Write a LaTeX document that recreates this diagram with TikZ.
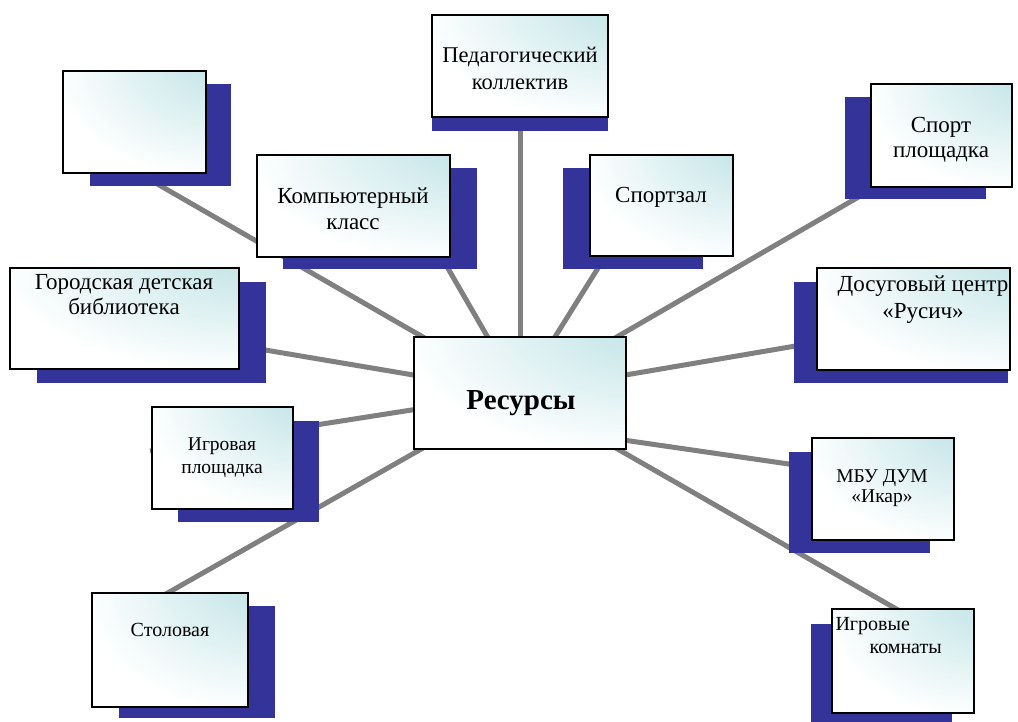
\documentclass[tikz,border=0pt]{standalone}
\usepackage{fontspec}
\setmainfont{Liberation Serif}
\usetikzlibrary{backgrounds,calc}
\definecolor{shadowblue}{RGB}{51,51,153}
\definecolor{boxcyan}{RGB}{189,226,229}
\definecolor{spokegray}{RGB}{128,128,128}
\pgfdeclareradialshading{boxglow}{\pgfpoint{40bp}{40bp}}{color(0bp)=(boxcyan); color(8bp)=(boxcyan); color(52bp)=(white); color(140bp)=(white)}

\begin{document}
\begin{tikzpicture}[x=1pt, y=-1pt,
  box/.style={draw=black, line width=2pt, inner sep=0pt, shading=boxglow},
  spoke/.style={draw=spokegray, line width=5pt},
  lbl/.style={anchor=base, align=center, font=\fontsize{23}{26}\selectfont},
  smalllbl/.style={anchor=base, align=center, font=\fontsize{19.5}{23}\selectfont}]
\useasboundingbox (0,0) rectangle (1018,722);

% shadows
\fill[shadowblue] (90,84) rectangle (231,186);
\fill[shadowblue] (432,29) rectangle (608,131);
\fill[shadowblue] (283,168) rectangle (477,269);
\fill[shadowblue] (563,168) rectangle (703,269);
\fill[shadowblue] (845,97) rectangle (986,199);
\fill[shadowblue] (794,282) rectangle (1008,383);
\fill[shadowblue] (37,282) rectangle (266,383);
\fill[shadowblue] (178,421) rectangle (319,522);
\fill[shadowblue] (789,452) rectangle (930,553);
\fill[shadowblue] (119,606) rectangle (275,718);
\fill[shadowblue] (811,624) rectangle (952,722);

% boxes
\node[box, minimum width=212, minimum height=112] (res) at (520,393) {};
\node[box, minimum width=143, minimum height=102] (empty) at (134.5,122) {};
\node[box, minimum width=176, minimum height=102] (ped) at (520,66) {};
\node[box, minimum width=193, minimum height=102] (comp) at (353.5,206) {};
\node[box, minimum width=143, minimum height=101] (sz) at (661.5,205.5) {};
\node[box, minimum width=141, minimum height=103] (sp) at (941.5,135.5) {};
\node[box, minimum width=193, minimum height=102] (dos) at (913.5,319) {};
\node[box, minimum width=229, minimum height=101] (gor) at (124.5,318.5) {};
\node[box, minimum width=141, minimum height=102] (igp) at (222.5,458) {};
\node[box, minimum width=142, minimum height=102] (mbu) at (883,489) {};
\node[box, minimum width=156, minimum height=114] (stol) at (170,650) {};
\node[box, minimum width=142, minimum height=104] (igk) at (903,661) {};

% texts (base = last line)
\node[anchor=base, font=\fontsize{29}{34}\selectfont\bfseries] (restxt) at (521,409) {Ресурсы};
\node[lbl, font=\fontsize{22.5}{27}\selectfont] (pedtxt) at (520,90) {Педагогический\\коллектив};
\node[lbl] (comptxt) at (353,230) {Компьютерный\\класс};
\node[lbl] (sztxt) at (661,203) {Спортзал};
\node[lbl, font=\fontsize{23}{25}\selectfont] (sptxt) at (941,158) {Спорт\\площадка};
\node[lbl] (dostxt) at (923,318) {Досуговый центр\\«Русич»};
\node[lbl, font=\fontsize{23}{25}\selectfont] (gortxt) at (124,315) {Городская детская\\библиотека};
\node[smalllbl] (igptxt) at (222,473) {Игровая\\площадка};
\node[smalllbl, font=\fontsize{19.5}{20}\selectfont] (mbutxt) at (882,502) {МБУ ДУМ\\«Икар»};
\node[smalllbl, font=\fontsize{20}{23}\selectfont] (stoltxt) at (170,636) {Столовая};
\node[smalllbl, anchor=base west, align=left, font=\fontsize{20}{23}\selectfont] (igktxt) at (832,653) {Игровые\\\hspace*{34pt}комнаты};

% spokes
\coordinate (e1end) at (140,174);
\coordinate (compend) at (420,220);
\coordinate (szend) at (628,220);
\coordinate (spend) at (900,173);
\coordinate (dosend) at (860,335);
\coordinate (gorend) at (200,339);
\coordinate (igpend) at (150,451);
\coordinate (stolend) at (150,603);
\coordinate (mbuend) at (830,470);
\coordinate (igkend) at (905,614);
\begin{scope}[on background layer]
\draw[spoke] (res.center) -- (e1end);
\draw[spoke] (res.center) -- (ped.center);
\draw[spoke] (res.center) -- (compend);
\draw[spoke] (res.center) -- (szend);
\draw[spoke] (res.center) -- (spend);
\draw[spoke] (res.center) -- (dosend);
\draw[spoke] (res.center) -- (gorend);
\draw[spoke] (res.center) -- (igpend);
\draw[spoke] (res.center) -- (stolend);
\draw[spoke] ($(res.center)+(0,32)$) -- (mbuend);
\draw[spoke] (res.center) -- (igkend);
\end{scope}
\end{tikzpicture}
\end{document}
